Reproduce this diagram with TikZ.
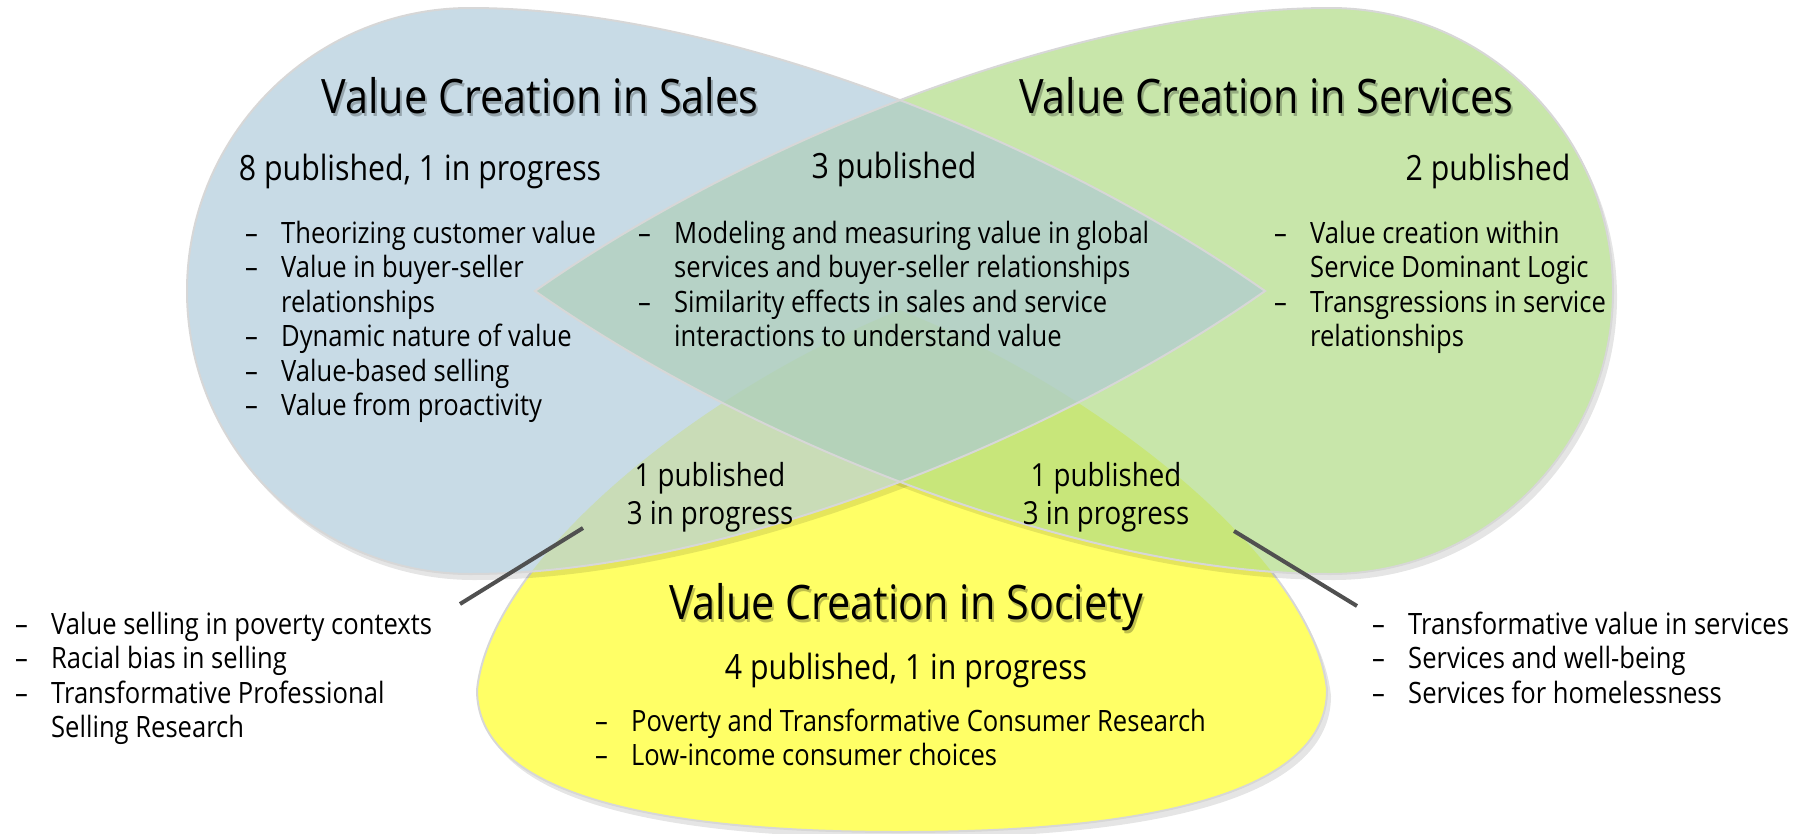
\documentclass[tikz,border=0pt]{standalone}
\usepackage{fontspec}
\setmainfont{Open Sans}[FakeStretch=0.87]
\definecolor{cB}{RGB}{200,219,230}
\definecolor{cG}{RGB}{200,230,170}
\definecolor{cY}{RGB}{255,255,102}
\definecolor{cBG}{RGB}{182,210,198}
\definecolor{cBY}{RGB}{201,220,183}
\definecolor{cGY}{RGB}{200,230,122}
\definecolor{cBGY}{RGB}{180,210,185}
\definecolor{edge}{RGB}{215,215,215}
\definecolor{conn}{RGB}{80,80,80}
\newcommand{\dsh}{\makebox[36pt][l]{–}}
\newcommand{\ind}{\hspace*{36pt}}
\tikzset{
 salesS/.style={insert path={(1265,291) .. controls (1050,140) and (720,8) .. (470,8) .. controls (314,8) and (187,135) .. (187,291) .. controls (187,447) and (314,574) .. (470,574) .. controls (720,574) and (1050,442) .. (1265,291) -- cycle}},
 servS/.style={insert path={(535,291) .. controls (750,140) and (1080,8) .. (1330,8) .. controls (1486,8) and (1613,135) .. (1613,291) .. controls (1613,447) and (1486,574) .. (1330,574) .. controls (1080,574) and (750,442) .. (535,291) -- cycle}},
 socS/.style={insert path={(900,310) .. controls (700,390) and (490,560) .. (477,690) .. controls (477,790) and (640,832) .. (900,832) .. controls (1160,832) and (1327,790) .. (1327,690) .. controls (1314,560) and (1100,390) .. (900,310) -- cycle}},
 shad/.style={fill=black, opacity=.10, shift={(4,6)}},
 ttl/.style={inner sep=0pt, anchor=base, font=\fontsize{47.5}{57}\selectfont},
 ttlsh/.style={ttl, text=black, opacity=.25},
 cnt/.style={inner sep=0pt, anchor=base, font=\fontsize{34.8}{40}\selectfont},
 lst/.style={inner sep=0pt, anchor=base west, font=\fontsize{29.4}{34.5}\selectfont},
 pair/.style={inner sep=0pt, anchor=base, font=\fontsize{31.8}{38}\selectfont},
 link/.style={draw=conn, line width=4pt},
}
\begin{document}
\begin{tikzpicture}[x=1pt,y=-1pt]
\useasboundingbox (0,0) rectangle (1803,833);
% shadows and yellow
\path[shad, socS];
\path[fill=cY, draw=edge, line width=2pt, socS];
\path[shad, salesS];
\path[shad, servS];
% fills
\path[fill=cB, salesS];
\path[fill=cG, servS];
\begin{scope}
 \clip[salesS];
 \path[fill=cBY, socS];
\end{scope}
\begin{scope}
 \clip[servS];
 \path[fill=cGY, socS];
\end{scope}
\begin{scope}
 \clip[salesS];
 \path[fill=cBG, servS];
\end{scope}
\begin{scope}
 \clip[salesS];
 \clip[servS];
 \path[fill=cBGY, socS];
\end{scope}
% edges
\path[draw=edge, line width=2pt, salesS];
\path[draw=edge, line width=2pt, servS];

% titles
\node[ttlsh] (tSalesSh) at (542,116) {Value Creation in Sales};
\node[ttl] (tSales) at (540,113) {Value Creation in Sales};
\node[ttlsh] (tServSh) at (1268,116) {Value Creation in Services};
\node[ttl] (tServ) at (1266,113) {Value Creation in Services};
\node[ttlsh] (tSocSh) at (908,622) {Value Creation in Society};
\node[ttl] (tSoc) at (906,619) {Value Creation in Society};

% counts
\node[cnt] (cSales) at (420,180) {8 published, 1 in progress};
\node[cnt] (cMid) at (894,178) {3 published};
\node[cnt] (cServ) at (1488,180) {2 published};
\node[cnt] (cSoc) at (906,679) {4 published, 1 in progress};
\node[pair] (pL) at (710,486) {\begin{tabular}[t]{@{}c@{}}1 published\\3 in progress\end{tabular}};
\node[pair] (pR) at (1106,486) {\begin{tabular}[t]{@{}c@{}}1 published\\3 in progress\end{tabular}};

% lists
\node[lst] (lSales) at (245,243) {\begin{tabular}[t]{@{}l@{}}
\dsh Theorizing customer value\\
\dsh Value in buyer-seller\\
\ind relationships\\
\dsh Dynamic nature of value\\
\dsh Value-based selling\\
\dsh Value from proactivity
\end{tabular}};
\node[lst] (lMid) at (638,243) {\begin{tabular}[t]{@{}l@{}}
\dsh Modeling and measuring value in global\\
\ind services and buyer-seller relationships\\
\dsh Similarity effects in sales and service\\
\ind interactions to understand value
\end{tabular}};
\node[lst] (lServ) at (1274,243) {\begin{tabular}[t]{@{}l@{}}
\dsh Value creation within\\
\ind Service Dominant Logic\\
\dsh Transgressions in service\\
\ind relationships
\end{tabular}};
\node[lst] (lLeft) at (15,634) {\begin{tabular}[t]{@{}l@{}}
\dsh Value selling in poverty contexts\\
\dsh Racial bias in selling\\
\dsh Transformative Professional\\
\ind Selling Research
\end{tabular}};
\node[lst] (lRight) at (1372,634) {\begin{tabular}[t]{@{}l@{}}
\dsh Transformative value in services\\
\dsh Services and well-being\\
\dsh Services for homelessness
\end{tabular}};
\node[lst] (lSoc) at (595,731) {\begin{tabular}[t]{@{}l@{}}
\dsh Poverty and Transformative Consumer Research\\
\dsh Low-income consumer choices
\end{tabular}};

% connectors
\coordinate (kL1) at (460,604);
\coordinate (kL2) at (583,528);
\coordinate (kR1) at (1234,531);
\coordinate (kR2) at (1357,606);
\draw[link] (kL1) -- (kL2);
\draw[link] (kR1) -- (kR2);
\end{tikzpicture}
\end{document}
